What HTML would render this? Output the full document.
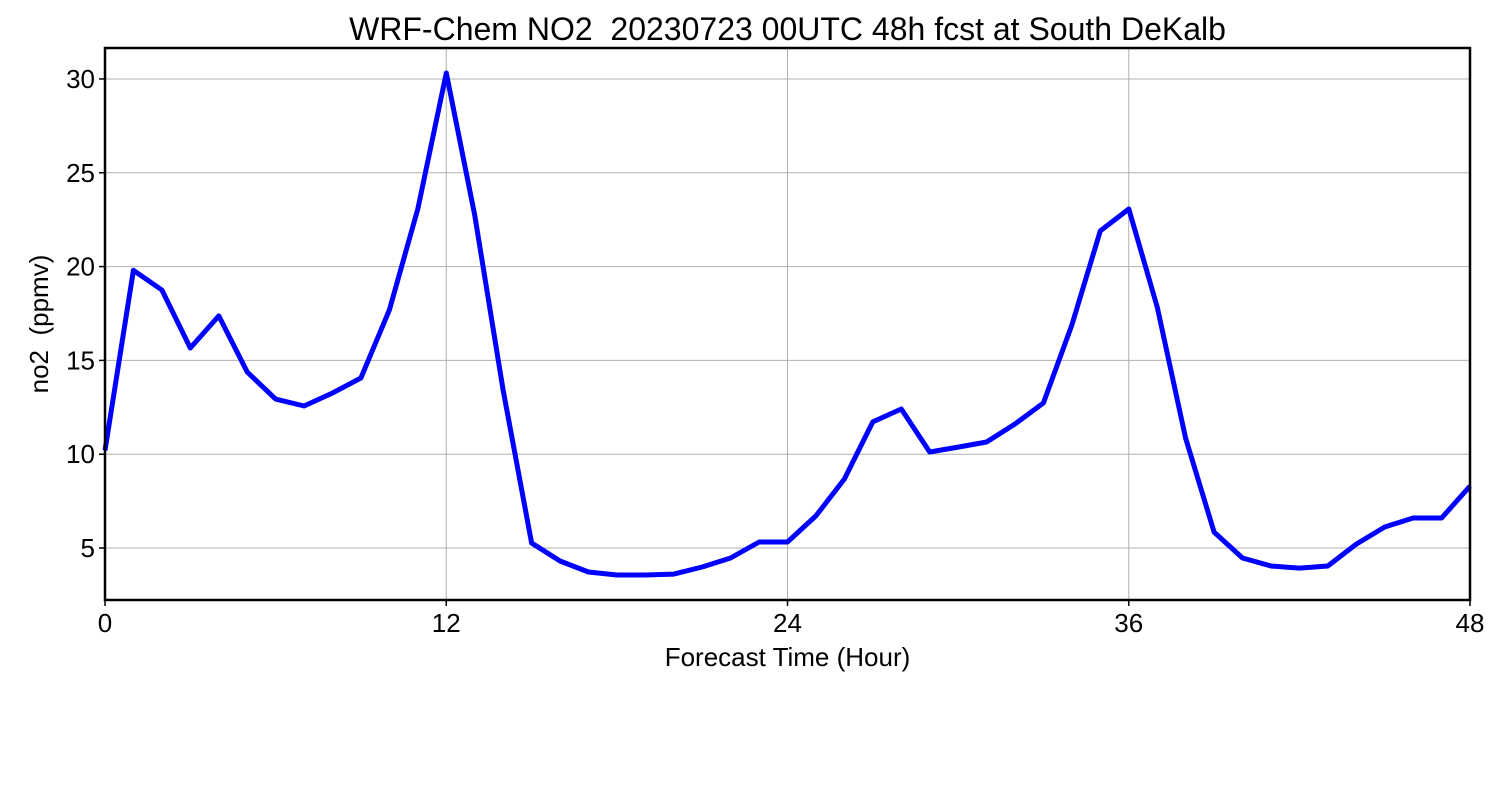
<!DOCTYPE html>
<html><head><meta charset="utf-8"><style>
body{margin:0;background:#fff;}
svg{display:block;font-family:"Liberation Sans",sans-serif;}
</style></head><body>
<svg id="chart" width="1500" height="800" xmlns="http://www.w3.org/2000/svg"></svg>
<script>
const hours = [0,1,2,3,4,5,6,7,8,9,10,11,12,13,14,15,16,17,18,19,20,21,22,23,24,25,26,27,28,29,30,31,32,33,34,35,36,37,38,39,40,41,42,43,44,45,46,47,48];
const no2 = [10.2,19.8,18.75,15.66,17.37,14.38,12.94,12.57,13.26,14.06,17.69,23.07,30.32,22.75,13.42,5.27,4.31,3.72,3.56,3.56,3.61,3.99,4.47,5.32,5.32,6.71,8.68,11.72,12.41,10.12,10.38,10.65,11.61,12.73,16.89,21.9,23.07,17.85,10.86,5.85,4.47,4.04,3.93,4.04,5.21,6.12,6.6,6.6,8.3];
const xTicks = [0,12,24,36,48];
const yTicks = [5,10,15,20,25,30];

const L=105,R=1470,T=48,B=600, xMin=0,xMax=48, yMin=2.23,yMax=31.65;
const sx=v=>L+(v-xMin)/(xMax-xMin)*(R-L);
const sy=v=>B-(v-yMin)/(yMax-yMin)*(B-T);
const NS="http://www.w3.org/2000/svg";
const svg=document.getElementById('chart');
function mk(tag,attrs,text){const e=document.createElementNS(NS,tag);for(const k in attrs)e.setAttribute(k,attrs[k]);if(text!==undefined)e.textContent=text;svg.appendChild(e);return e;}

xTicks.forEach(t=>{
  const g=mk('line',{x1:sx(t),x2:sx(t),y1:T,y2:B,stroke:'#b0b0b0','stroke-width':1});
  
  
  const tk=mk('line',{x1:sx(t),x2:sx(t),y1:B,y2:B+6,stroke:'#000','stroke-width':1.5});
  
  
  const lb=mk('text',{x:sx(t),y:B+32,'text-anchor':'middle','font-size':26},String(t));
  
  
});
yTicks.forEach(t=>{
  const g=mk('line',{x1:L,x2:R,y1:sy(t),y2:sy(t),stroke:'#b0b0b0','stroke-width':1});
  
  
  const tk=mk('line',{x1:L-6,x2:L,y1:sy(t),y2:sy(t),stroke:'#000','stroke-width':1.5});
  
  
  const lb=mk('text',{x:L-10,y:sy(t)+9,'text-anchor':'end','font-size':26},String(t));
  
  
});

const pts=hours.map((h,i)=>sx(h).toFixed(1)+','+sy(no2[i]).toFixed(1)).join(' ');
const line=mk('polyline',{points:pts,fill:'none',stroke:'#0000ff','stroke-width':5,'stroke-linejoin':'round'});



const frame=mk('rect',{x:L,y:T,width:R-L,height:B-T,fill:'none',stroke:'#000','stroke-width':2.5});



const title=mk('text',{x:(L+R)/2,y:40,'text-anchor':'middle','font-size':32},'WRF-Chem NO2  20230723 00UTC 48h fcst at South DeKalb');


title.setAttribute('xml:space','preserve');
title.style.whiteSpace='pre';

const xt=mk('text',{x:(L+R)/2,y:666,'text-anchor':'middle','font-size':26},'Forecast Time (Hour)');



const yt=mk('text',{x:0,y:0,'text-anchor':'middle','font-size':26,transform:'translate(48,'+((T+B)/2)+') rotate(-90)'},'no2  (ppmv)');


yt.style.whiteSpace='pre';
</script>
</body></html>
